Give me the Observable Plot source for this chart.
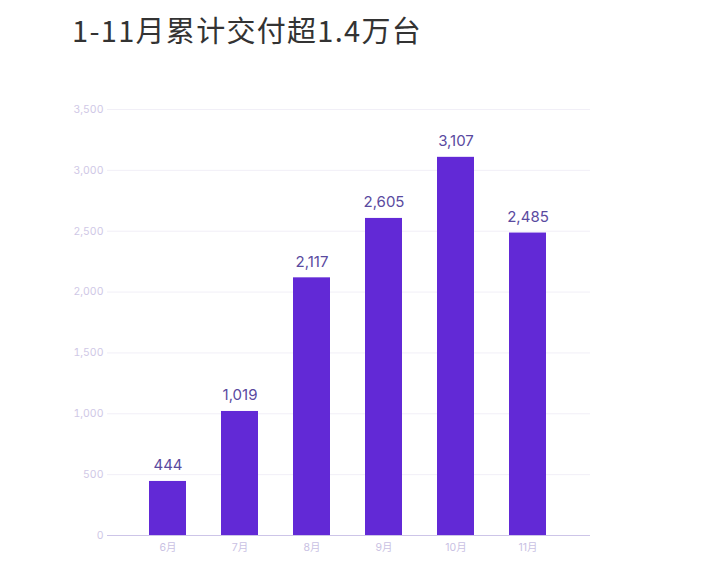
<!DOCTYPE html>
<html>
<head>
<meta charset="utf-8">
<script src="https://cdn.jsdelivr.net/npm/d3@7"></script>
<script src="https://cdn.jsdelivr.net/npm/@observablehq/plot@0.6"></script>
<style>
  html, body { margin: 0; padding: 0; background: #fff; }
  #wrap { width: 708px; }
  #title { position: relative; height: 60px; }
  #title span { position: absolute; left: 72px; top: 15px; font-family: "Noto Sans CJK SC", "Noto Sans", sans-serif; font-size: 29px; line-height: 1; color: #333; letter-spacing: 1.3px; }
</style>
</head>
<body>
<div id="wrap">
  <div id="title"><span>1-11月累计交付超1.4万台</span></div>
  <div id="chart"></div>
</div>
<script>
const titleText = "1-11月累计交付超1.4万台";
const months = ["6月", "7月", "8月", "9月", "10月", "11月"];
const deliveries = [444, 1019, 2117, 2605, 3107, 2485];
const yTicks = [0, 500, 1000, 1500, 2000, 2500, 3000, 3500];

const data = months.map((m, i) => ({month: m, value: deliveries[i]}));
const fmt = d3.format(",");

const chart = Plot.plot({
  width: 708,
  height: 512,
  marginTop: 49,
  marginBottom: 37,
  marginLeft: 130,
  marginRight: 143,
  style: {fontFamily: "Inter, 'Noto Sans CJK SC', sans-serif", background: "#fff"},
  x: {domain: months, paddingInner: 0.49, paddingOuter: 0.245, label: null},
  y: {domain: [0, 3500], label: null},
  marks: [
    Plot.ruleY(yTicks.slice(1), {stroke: "#f1eff7", strokeWidth: 1, insetLeft: -23, insetRight: -25}),
    Plot.barY(data, {x: "month", y: "value", fill: "#6229d6"}),
    Plot.ruleY([0], {stroke: "#cdc5e8", strokeWidth: 1.2, insetLeft: -23, insetRight: -25}),
    Plot.text(data, {x: "month", y: "value", text: d => fmt(d.value), lineAnchor: "bottom", dy: -11, fill: "#5a4a9f", fontSize: 15}),
    Plot.axisY({ticks: yTicks, tickSize: 0, tickPadding: 27, tickFormat: fmt, fill: "#cfc8e6", fontSize: 10.5}),
    Plot.axisX({tickSize: 0, tickPadding: 8, fill: "#c9c1e3", fontSize: 10.5})
  ]
});
document.getElementById("chart").appendChild(chart);
</script>
</body>
</html>
